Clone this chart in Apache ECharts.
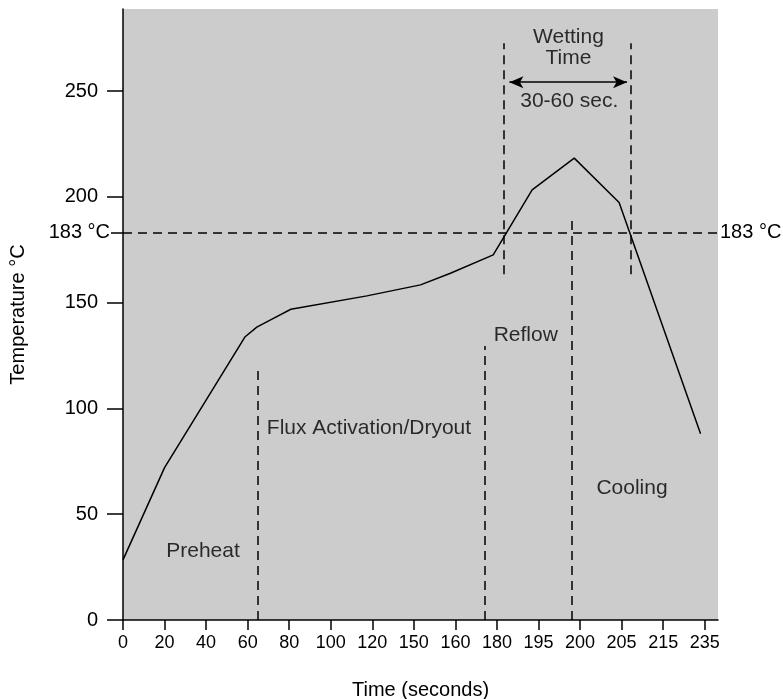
<!DOCTYPE html>
<html><head><meta charset="utf-8">
<script src="https://cdn.jsdelivr.net/npm/echarts@6/dist/echarts.min.js"></script>
<style>html,body{margin:0;padding:0;background:#fff}#c{width:783px;height:699px}</style>
</head><body><div id="c"></div>
<script>
// ---- data ----
const tickLabels = [0, 20, 40, 60, 80, 100, 120, 150, 160, 180, 195, 200, 205, 215, 235];
const yTicks = [0, 50, 100, 150, 200, 250];
const profileTime = [0, 20, 58.8, 64.4, 72.4, 80.8, 117.4, 151.6, 158.8, 178.2, 192.7, 199.3, 204.7, 233];
const profileTemp = [28.4, 72, 133.9, 138.4, 142.6, 146.9, 153.2, 158.4, 163.9, 172.6, 203.3, 218.3, 197.3, 88];
const liquidus = 183;
const phaseLineTime = [65, 174, 199];
const phaseLineTop = [118, 129.5, 189.5];
const wettingTime = [182.3, 207.2];
const wettingRange = [163.4, 272.6];
const arrowTime = [184.5, 206.3];
const arrowTemp = 254.2;
const labelTexts = ['Preheat', 'Flux Activation/Dryout', 'Reflow', 'Cooling', 'Wetting\nTime', '30-60 sec.'];
const labelTime = [38.5, 118.4, 190.4, 207.5, 198.6, 198.7];
const labelTemp = [32.3, 90.6, 134.5, 62.3, 270.5, 245];

// map seconds onto the evenly spaced (non-linear) time axis
function toIdx(t) {
  for (let i = 0; i < tickLabels.length - 1; i++) {
    if (t <= tickLabels[i + 1]) return i + (t - tickLabels[i]) / (tickLabels[i + 1] - tickLabels[i]);
  }
  return tickLabels.length - 1;
}
const FONT = "'Liberation Sans', Arial, sans-serif";
const tickIdx = tickLabels.map((_, i) => i);
const dash = [9, 6];

const chart = echarts.init(document.getElementById('c'), null, {renderer: 'canvas'});
const vLines = phaseLineTime.map((t, i) => [{coord: [toIdx(t), 0]}, {coord: [toIdx(t), phaseLineTop[i]]}])
  .concat(wettingTime.map(t => [{coord: [toIdx(t), wettingRange[0]]}, {coord: [toIdx(t), wettingRange[1]]}]));

chart.setOption({
  animation: false,
  textStyle: {fontFamily: FONT},
  grid: {left: 123, top: 9, width: 595, height: 611, show: true, backgroundColor: '#cccccc', borderWidth: 0,
         containLabel: false, outerBoundsMode: 'none'},
  xAxis: {
    type: 'value', min: 0, max: 14.32,
    axisLine: {show: true, onZero: false, lineStyle: {color: '#000', width: 1.5}},
    axisTick: {show: true, customValues: tickIdx, length: 10, lineStyle: {color: '#000', width: 1.5}},
    axisLabel: {customValues: tickIdx, formatter: v => String(tickLabels[Math.round(v)]), fontSize: 18, color: '#000', margin: 14, fontFamily: FONT},
    splitLine: {show: false},
    name: 'Time (seconds)', nameLocation: 'middle', nameGap: 60,
    nameTextStyle: {fontSize: 20, color: '#000', fontFamily: FONT}
  },
  yAxis: [{
    type: 'value', min: 0, max: 288.8,
    axisLine: {show: true, lineStyle: {color: '#000', width: 1.5}},
    axisTick: {show: true, customValues: yTicks, length: 16, lineStyle: {color: '#000', width: 1.5}},
    axisLabel: {customValues: yTicks, fontSize: 20, color: '#000', margin: 25, fontFamily: FONT},
    splitLine: {show: false},
    name: 'Temperature °C', nameLocation: 'middle', nameRotate: 90, nameGap: 95,
    nameTextStyle: {fontSize: 20, color: '#000', fontFamily: FONT}
  }, {
    type: 'value', min: 0, max: 288.8, position: 'left',
    axisLine: {show: false},
    axisTick: {show: true, customValues: [liquidus], length: 12, lineStyle: {color: '#000', width: 1.5}},
    axisLabel: {customValues: [liquidus], formatter: v => v + ' °C', fontSize: 20, color: '#000', margin: 13, fontFamily: FONT},
    splitLine: {show: false}
  }],
  series: [{
    type: 'line',
    data: profileTime.map((t, i) => [toIdx(t), profileTemp[i]]),
    symbol: 'none',
    lineStyle: {color: '#000', width: 1.5},
    markLine: {
      silent: true, symbol: 'none',
      lineStyle: {type: dash, color: '#000', width: 1.5},
      label: {show: true, position: 'end', formatter: liquidus + ' °C', fontSize: 20, color: '#000', distance: 2, fontFamily: FONT},
      data: [{yAxis: liquidus}]
    }
  }, {
    type: 'line', data: [],
    markLine: {
      silent: true, symbol: 'none',
      lineStyle: {type: dash, color: '#000', width: 1.5},
      label: {show: false},
      data: vLines
    }
  }, {
    type: 'line', data: [],
    markLine: {
      silent: true, symbol: ['arrow', 'arrow'], symbolSize: [9, 14],
      lineStyle: {type: 'solid', color: '#000', width: 1.5},
      itemStyle: {color: '#000'},
      label: {show: false},
      data: [[{coord: [toIdx(arrowTime[0]), arrowTemp]}, {coord: [toIdx(arrowTime[1]), arrowTemp]}]]
    }
  }, {
    type: 'scatter',
    symbolSize: 0.1,
    itemStyle: {color: 'rgba(0,0,0,0)'},
    data: labelTexts.map((s, i) => ({name: s, value: [toIdx(labelTime[i]), labelTemp[i]]})),
    label: {show: true, position: 'inside', formatter: '{b}', fontSize: 21, lineHeight: 21, color: '#000', fontFamily: FONT},
    silent: true
  }]
});
</script>
</body></html>
